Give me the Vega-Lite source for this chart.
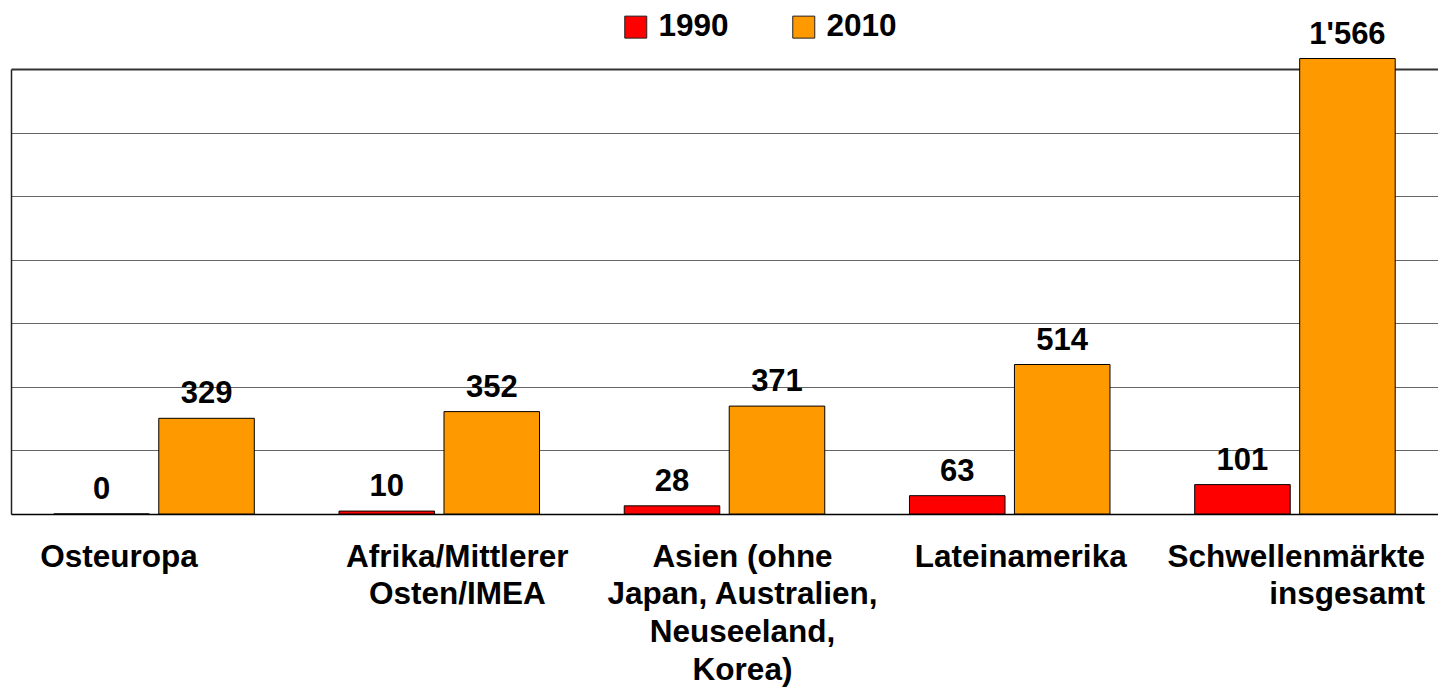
{
  "$schema": "https://vega.github.io/schema/vega-lite/v6.json",
  "width": 1427,
  "height": 445,
  "autosize": {"type": "none"},
  "padding": {"left": 11, "top": 69, "right": 0, "bottom": 177},
  "background": "white",
  "config": {
    "view": {"stroke": null},
    "font": "Liberation Sans",
    "text": {"font": "Liberation Sans"}
  },
  "data": {
    "values": [
      {"region": "Osteuropa", "year": "1990", "value": 0, "label": "0"},
      {"region": "Osteuropa", "year": "2010", "value": 329, "label": "329"},
      {"region": "Afrika/Mittlerer\nOsten/IMEA", "year": "1990", "value": 10, "label": "10"},
      {"region": "Afrika/Mittlerer\nOsten/IMEA", "year": "2010", "value": 352, "label": "352"},
      {"region": "Asien (ohne\nJapan, Australien,\nNeuseeland,\nKorea)", "year": "1990", "value": 28, "label": "28"},
      {"region": "Asien (ohne\nJapan, Australien,\nNeuseeland,\nKorea)", "year": "2010", "value": 371, "label": "371"},
      {"region": "Lateinamerika", "year": "1990", "value": 63, "label": "63"},
      {"region": "Lateinamerika", "year": "2010", "value": 514, "label": "514"},
      {"region": "Schwellenmärkte\ninsgesamt", "year": "1990", "value": 101, "label": "101"},
      {"region": "Schwellenmärkte\ninsgesamt", "year": "2010", "value": 1566, "label": "1'566"}
    ]
  },
  "encoding": {
    "x": {
      "field": "region",
      "type": "nominal",
      "sort": null,
      "title": null,
      "scale": {"paddingInner": 0.297, "paddingOuter": 0.15},
      "axis": {
        "labelAngle": 0,
        "labelExpr": "split(datum.label, '\\n')",
        "labelFont": "Liberation Sans",
        "labelFontSize": 31.5,
        "labelFontWeight": "bold",
        "labelColor": "black",
        "labelLineHeight": 37.7,
        "labelPadding": 27,
        "labelBaseline": "top",
        "labelLimit": 0,
        "labelOverlap": false,
        "labelAlign": {"condition": {"test": "indexof(datum.value, 'Schwellen') >= 0", "value": "right"}, "value": "center"},
        "labelOffset": {
          "condition": [
            {"test": "datum.value == 'Osteuropa'", "value": -35},
            {"test": "indexof(datum.value, 'Schwellen') >= 0", "value": 130},
            {"test": "datum.value == 'Lateinamerika'", "value": 11}
          ],
          "value": 18
        },
        "ticks": false,
        "domain": true,
        "domainColor": "black",
        "domainWidth": 1.5,
        "grid": false
      }
    },
    "xOffset": {
      "field": "year",
      "type": "nominal",
      "scale": {"paddingInner": 0.09, "paddingOuter": 0}
    },
    "y": {
      "field": "value",
      "type": "quantitative",
      "title": null,
      "scale": {"domain": [0, 1530], "nice": false, "clamp": false},
      "axis": {
        "values": [0, 218.5714, 437.1429, 655.7143, 874.2857, 1092.8571, 1311.4286, 1530],
        "labels": false,
        "ticks": false,
        "domain": true,
        "domainColor": "#222222",
        "domainWidth": 1.5,
        "grid": true,
        "gridColor": {"condition": {"test": "datum.value >= 1529", "value": "#333333"}, "value": "#666666"},
        "gridWidth": {"condition": {"test": "datum.value >= 1529", "value": 2}, "value": 1},
        "gridOpacity": 1
      }
    }
  },
  "layer": [
    {
      "mark": {"type": "bar", "stroke": "black", "strokeWidth": 1, "clip": false},
      "encoding": {
        "color": {
          "field": "year",
          "type": "nominal",
          "scale": {"domain": ["1990", "2010"], "range": ["#FF0000", "#FF9900"]},
          "legend": {
            "title": null,
            "orient": "none",
            "legendX": 609,
            "legendY": -58,
            "direction": "horizontal",
            "symbolType": "square",
            "symbolSize": 484,
            "symbolStrokeColor": "#222222",
            "symbolStrokeWidth": 1,
            "symbolOpacity": 1,
            "labelFont": "Liberation Sans",
            "labelFontSize": 31.5,
            "labelFontWeight": "bold",
            "labelColor": "black",
            "labelOffset": 7,
            "columnPadding": 59
          }
        }
      }
    },
    {
      "mark": {
        "type": "text",
        "baseline": "bottom",
        "dy": -8,
        "fontSize": 31,
        "fontWeight": "bold",
        "color": "black",
        "font": "Liberation Sans",
        "clip": false
      },
      "encoding": {"text": {"field": "label"}}
    }
  ]
}
